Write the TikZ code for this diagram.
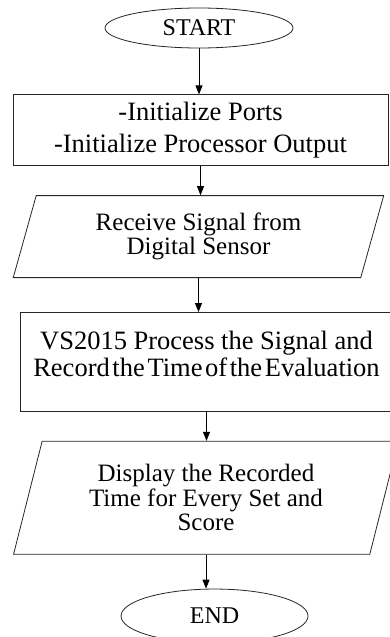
\documentclass[tikz,border=0pt]{standalone}
\usepackage{fontspec}
\setmainfont{Liberation Serif}
\usetikzlibrary{positioning, arrows.meta, shapes.geometric}

\begin{document}
\begin{tikzpicture}[
        >={Triangle[length=9pt,width=7pt]},
        line width=0.8pt,
        terminal/.style={
            ellipse,
            draw=black!85,
            minimum width=188pt,
            minimum height=40pt,
            inner sep=0pt,
            font=\fontsize{24}{24}\selectfont
        },
        process/.style={
            rectangle,
            draw=black!85,
            align=center,
            inner sep=0pt,
            font=\fontsize{26.5}{27}\selectfont
        },
        iobox/.style={
            trapezium,
            trapezium left angle=73,
            trapezium right angle=107,
            trapezium stretches=true,
            draw=black!85,
            align=center,
            inner sep=0pt,
            font=\fontsize{25}{24.5}\selectfont
        },
        arr/.style={->}
    ]

    \useasboundingbox (0pt,0pt) rectangle (389pt,-637pt);

    \node[terminal] (start) at (199pt,-28pt) {START};

    \node[process, minimum width=375pt, minimum height=71pt,
          below=46pt of start, xshift=1.5pt] (init) {
        -Initialize Ports\\[5pt]
        -Initialize Processor Output
    };

    \node[iobox, minimum width=371pt, minimum height=82pt,
          below=29pt of init, xshift=-2pt] (receive) {
        Receive Signal from\\
        Digital Sensor
    };

    \node[process, minimum width=373pt, minimum height=99pt,
          below=34pt of receive, xshift=8pt] (evaluate) {
        VS2015 Process the Signal and\\
        {\spaceskip=0.1em Record the Time of the Evaluation}\\[-11pt]
        \mbox{}
    };

    \node[iobox, minimum width=386pt, minimum height=113pt,
          below=29pt of evaluate, xshift=-0.5pt] (display) {
        Display the Recorded\\
        Time for Every Set and\\
        Score
    };

    \node[terminal, minimum width=187pt, minimum height=54pt,
          below=34pt of display, xshift=8.5pt] (stop) {END};

    \draw[arr] (start.south)    -- (start.south |- init.north);
    \draw[arr] (init.south)     -- (init.south |- receive.north);
    \draw[arr] (receive.south)  -- (receive.south |- evaluate.north);
    \draw[arr] (evaluate.south) -- (evaluate.south |- display.north);
    \draw[arr] (display.south)  -- (display.south |- stop.north);

\end{tikzpicture}
\end{document}
